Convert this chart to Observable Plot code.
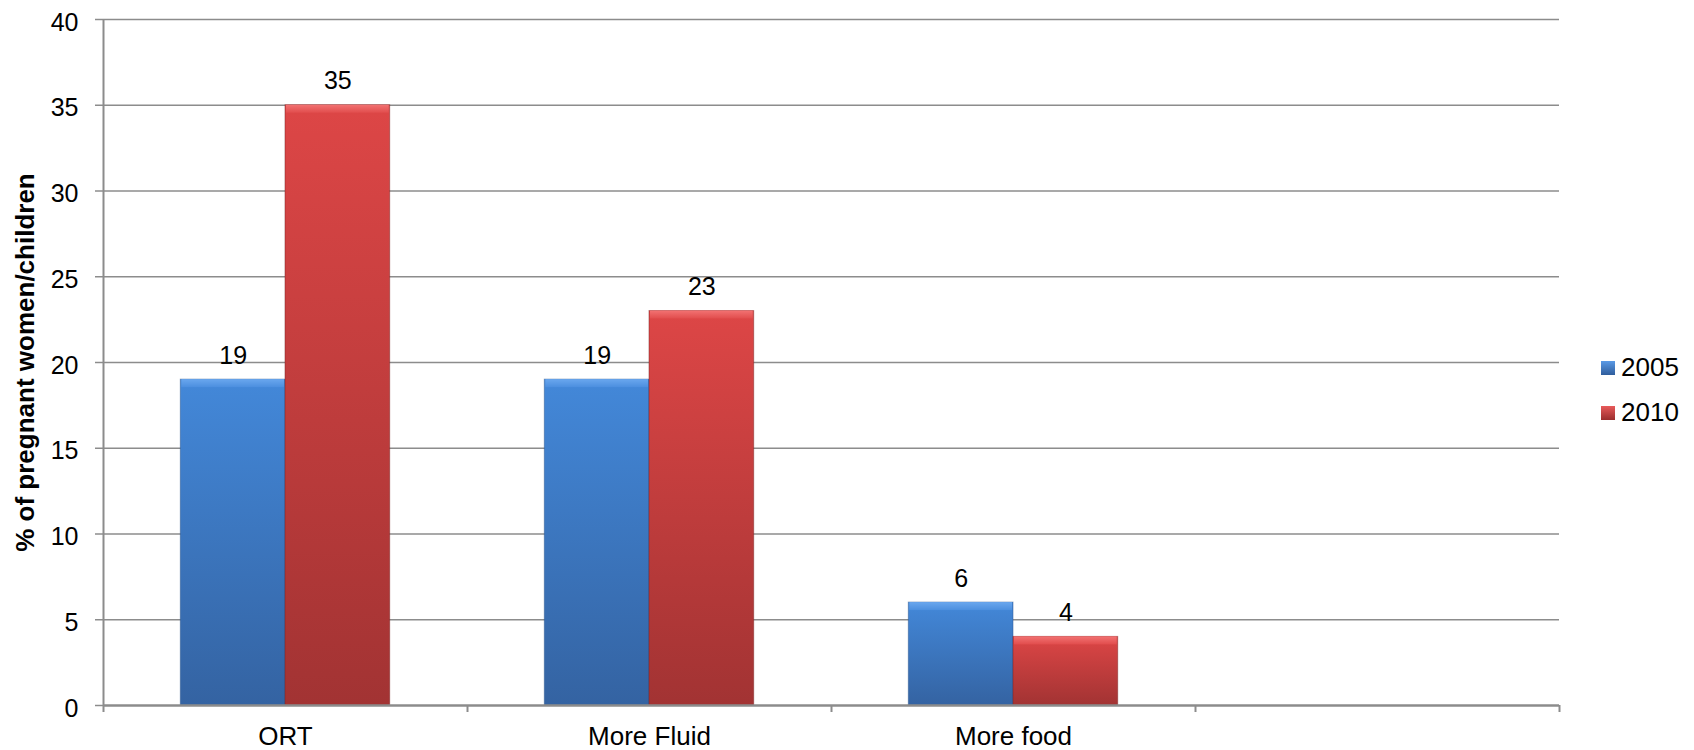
<!DOCTYPE html>
<html>
<head>
<meta charset="utf-8">
<script src="https://cdn.jsdelivr.net/npm/d3@7"></script>
<script src="https://cdn.jsdelivr.net/npm/@observablehq/plot@0.6"></script>
<style>
  body { margin: 0; background: #fff; font-family: "Liberation Sans", Arial, sans-serif; }
  #wrap { position: relative; width: 1694px; height: 750px; }
  .legend { position: absolute; left: 1601px; top: 345px; font-size: 26px; color: #000; }
  .legend .row { display: flex; align-items: center; height: 45px; }
  .legend .sw { width: 14px; height: 14px; margin-right: 6px; box-sizing: border-box; }
</style>
</head>
<body>
<div id="wrap"></div>
<script>
// ---- data ----
const categories = ["ORT", "More Fluid", "More food", ""];
const years = ["2005", "2010"];
const values2005 = [19, 19, 6];
const values2010 = [35, 23, 4];
const yTicks = [0, 5, 10, 15, 20, 25, 30, 35, 40];
const yLabel = "% of pregnant women/children";

// ---- layout ----
const W = 1694, H = 750, mL = 103, mR = 135, mT = 19, mB = 45;
const bw = (W - mL - mR) / categories.length;
const barW = bw * 0.2876;
const outer = (bw - 2 * barW) / 2;

const rows2005 = values2005.map((v, i) => ({ cat: categories[i], year: years[0], v }));
const rows2010 = values2010.map((v, i) => ({ cat: categories[i], year: years[1], v }));

const gridColor = "#8c8c8c";

const chart = Plot.plot({
  width: W,
  height: H,
  marginLeft: mL,
  marginRight: mR,
  marginTop: mT,
  marginBottom: mB,
  style: { fontFamily: "'Liberation Sans', Arial, sans-serif", background: "#fff" },
  x: { type: "band", domain: categories, padding: 0, axis: null },
  y: { domain: [0, 40], axis: null },
  marks: [
    // gridlines
    Plot.ruleY(yTicks.filter(d => d > 0), { stroke: gridColor, strokeWidth: 1.5 }),
    // y axis line (extends below as first boundary tick)
    Plot.ruleX([categories[0]], { x: d => d, dx: -bw / 2, stroke: gridColor, strokeWidth: 2, insetBottom: -7 }),
    // bars 2005
    Plot.barY(rows2005, { x: "cat", y: "v", insetLeft: outer, insetRight: bw - outer - barW, fill: "url(#g2005)", stroke: "#2c5590", strokeOpacity: 0.5, strokeWidth: 1 }),
    Plot.barY(rows2005, { x: "cat", y1: "v", y2: "v", insetLeft: outer + 1, insetRight: bw - outer - barW + 1, insetBottom: -8, fill: "url(#b2005)" }),
    // bars 2010
    Plot.barY(rows2010, { x: "cat", y: "v", insetLeft: outer + barW, insetRight: outer, fill: "url(#g2010)", stroke: "#7e2424", strokeOpacity: 0.5, strokeWidth: 1 }),
    Plot.barY(rows2010, { x: "cat", y1: "v", y2: "v", insetLeft: outer + barW + 1, insetRight: outer + 1, insetBottom: -8, fill: "url(#b2010)" }),
    // x axis line
    Plot.ruleY([0], { stroke: gridColor, strokeWidth: 2.5 }),
    // value labels
    Plot.text(rows2005, { x: "cat", y: "v", text: d => String(d.v), dx: -barW / 2, dy: -24, fontSize: 25, fill: "#000" }),
    Plot.text(rows2010, { x: "cat", y: "v", text: d => String(d.v), dx: barW / 2, dy: -24, fontSize: 25, fill: "#000" }),
    // y ticks and labels
    Plot.axisY({ ticks: yTicks, tickSize: 8, tickFormat: () => "", stroke: gridColor, strokeWidth: 1.5, label: null }),
    Plot.axisY({ ticks: yTicks, tickSize: 0, tickPadding: 25, dy: 3, fontSize: 25, fill: "#000", label: null }),
    // x labels
    Plot.axisX({ tickSize: 0, tickPadding: 21, fontSize: 26, fill: "#000", label: null }),
    // x boundary ticks
    Plot.axisX({ ticks: categories.slice(1), tickSize: 7, dx: -bw / 2, tickFormat: () => "", stroke: gridColor, strokeWidth: 2, label: null }),
    Plot.axisX({ ticks: categories.slice(-1), tickSize: 7, dx: bw / 2, tickFormat: () => "", stroke: gridColor, strokeWidth: 2, label: null }),
    // y axis title
    Plot.text([yLabel], { frameAnchor: "left", textAnchor: "middle", lineAnchor: "middle", rotate: -90, dx: -78, fontSize: 26, fontWeight: "bold", fill: "#000" })
  ]
});

// gradients
const ns = "http://www.w3.org/2000/svg";
const defs = document.createElementNS(ns, "defs");
function grad(id, stops) {
  const g = document.createElementNS(ns, "linearGradient");
  g.setAttribute("id", id);
  g.setAttribute("x1", "0"); g.setAttribute("y1", "0");
  g.setAttribute("x2", "0"); g.setAttribute("y2", "1");
  for (const [off, col] of stops) {
    const s = document.createElementNS(ns, "stop");
    s.setAttribute("offset", off);
    s.setAttribute("stop-color", col);
    g.appendChild(s);
  }
  defs.appendChild(g);
}
grad("g2005", [["0", "#4388d9"], ["1", "#3463a2"]]);
grad("g2010", [["0", "#dd4646"], ["1", "#a23333"]]);
grad("b2005", [["0", "#6aa7ee"], ["1", "#4c8fdf"]]);
grad("b2010", [["0", "#f27272"], ["1", "#e14d4d"]]);
chart.insertBefore(defs, chart.firstChild);

document.getElementById("wrap").appendChild(chart);

// legend
const legend = document.createElement("div");
legend.className = "legend";
const swatchGrad = {
  "2005": "linear-gradient(#5a9ae6, #2f5d9c)",
  "2010": "linear-gradient(#e85a5a, #9a2e2e)"
};
for (const y of years) {
  const row = document.createElement("div");
  row.className = "row";
  const sw = document.createElement("div");
  sw.className = "sw";
  sw.style.background = swatchGrad[y];
  row.appendChild(sw);
  const t = document.createElement("span");
  t.textContent = y;
  row.appendChild(t);
  legend.appendChild(row);
}
document.getElementById("wrap").appendChild(legend);
</script>
</body>
</html>
